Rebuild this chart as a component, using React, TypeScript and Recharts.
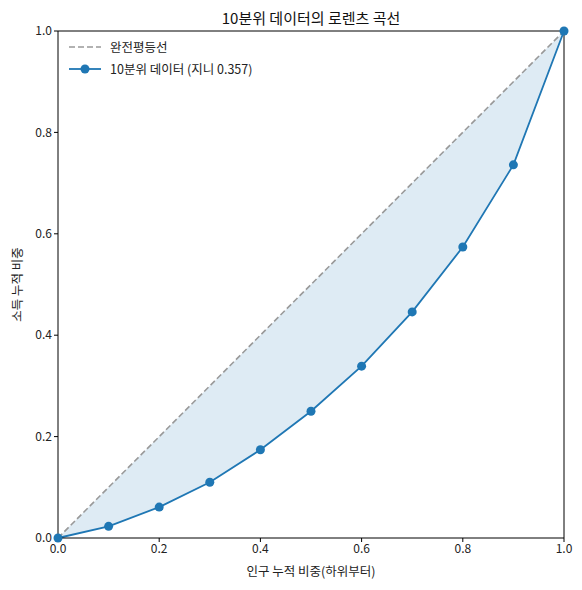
import React from 'react';
import {
  ComposedChart, Line, Area, XAxis, YAxis, ReferenceLine,
} from 'recharts';

const popShare = [0, 0.1, 0.2, 0.3, 0.4, 0.5, 0.6, 0.7, 0.8, 0.9, 1.0];
const incomeShare = [0, 0.023, 0.061, 0.110, 0.174, 0.250, 0.339, 0.446, 0.574, 0.736, 1.0];
const ticks = [0, 0.2, 0.4, 0.6, 0.8, 1.0];

const BLUE = '#1f77b4';
const FONT = '"Noto Sans CJK KR", "Noto Sans", sans-serif';

const data = popShare.map((x, i) => ({
  x,
  equal: x,
  lorenz: incomeShare[i],
  band: [incomeShare[i], x],
}));

const fmt = (v: number) => v.toFixed(1);

const LegendBox = () => (
  <div style={{ fontFamily: FONT, fontSize: 12.5, color: '#222', lineHeight: '22px' }}>
    <div style={{ display: 'flex', alignItems: 'center' }}>
      <svg width={34} height={12} style={{ marginRight: 8 }}>
        <line x1={1} y1={6} x2={33} y2={6} stroke="#999" strokeWidth={1.6} strokeDasharray="6 3" />
      </svg>
      완전평등선
    </div>
    <div style={{ display: 'flex', alignItems: 'center' }}>
      <svg width={34} height={12} style={{ marginRight: 8 }}>
        <line x1={1} y1={6} x2={33} y2={6} stroke={BLUE} strokeWidth={1.8} />
        <circle cx={17} cy={6} r={4.5} fill={BLUE} />
      </svg>
      10분위 데이터 (지니 0.357)
    </div>
  </div>
);

export default function App() {
  return (
    <div style={{ position: 'relative', width: 574, height: 582, fontFamily: FONT }}>
      <div style={{
        position: 'absolute', left: 50, width: 506, top: 0, textAlign: 'center',
        fontSize: 15, color: '#111', lineHeight: '20px',
      }}>
        10분위 데이터의 로렌츠 곡선
      </div>
      <div style={{ position: 'absolute', left: 60, top: 28, zIndex: 2 }}>
        <LegendBox />
      </div>
      <ComposedChart
        width={574}
        height={582}
        data={data}
        margin={{ top: 23, right: 18, left: 0, bottom: 0 }}
      >
        <XAxis
          type="number"
          dataKey="x"
          domain={[0, 1]}
          ticks={ticks}
          tickFormatter={fmt}
          stroke="#000"
          tickSize={4}
          tick={{ fontSize: 12, fill: '#222', fontFamily: FONT }}
          height={52}
          label={{ value: '인구 누적 비중(하위부터)', position: 'insideBottom', offset: 14, fontSize: 12.5, fill: '#222', fontFamily: FONT }}
        />
        <YAxis
          type="number"
          domain={[0, 1]}
          ticks={ticks}
          tickFormatter={fmt}
          stroke="#000"
          tickSize={4}
          width={50}
          tick={{ fontSize: 12, fill: '#222', fontFamily: FONT }}
          label={{ value: '소득 누적 비중', angle: -90, position: 'insideLeft', offset: 10, fontSize: 12.5, fill: '#222', fontFamily: FONT, style: { textAnchor: 'middle' } }}
        />
        <ReferenceLine y={1} stroke="#000" />
        <ReferenceLine x={1} stroke="#000" />
        <Area
          dataKey="band"
          type="linear"
          stroke="none"
          fill={BLUE}
          fillOpacity={0.15}
          isAnimationActive={false}
        />
        <Line
          dataKey="equal"
          type="linear"
          stroke="#999"
          strokeWidth={1.6}
          strokeDasharray="6 3"
          dot={false}
          activeDot={false}
          isAnimationActive={false}
        />
        <Line
          dataKey="lorenz"
          type="linear"
          stroke={BLUE}
          strokeWidth={1.8}
          dot={{ r: 4.5, fill: BLUE, stroke: BLUE, strokeWidth: 0 }}
          activeDot={false}
          isAnimationActive={false}
        />
      </ComposedChart>
    </div>
  );
}
